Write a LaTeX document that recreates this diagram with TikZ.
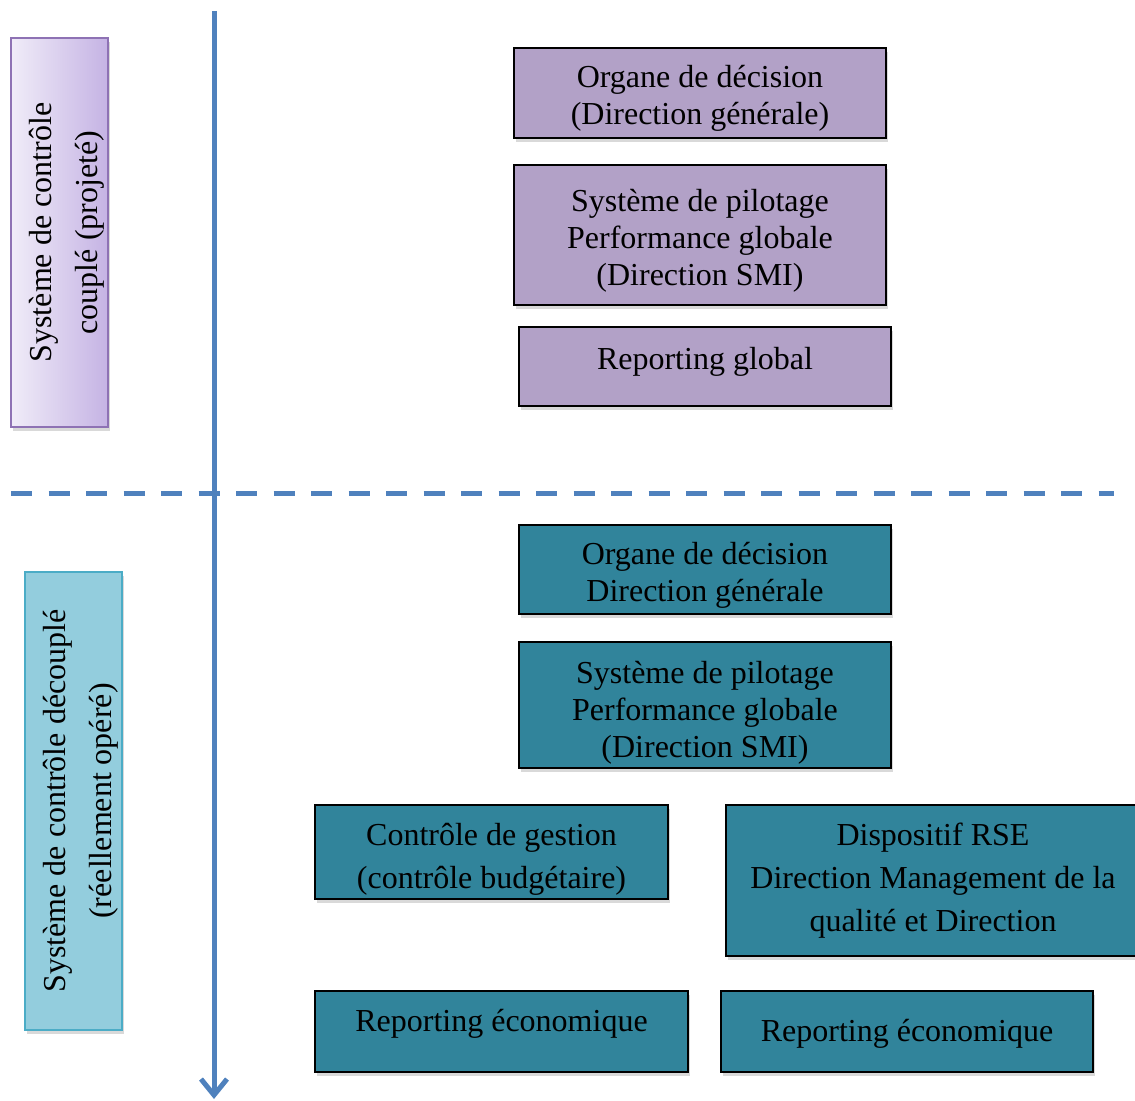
\documentclass[tikz,border=0pt]{standalone}
\usepackage{fontspec}
\setmainfont{Liberation Serif}
\usepackage{xcolor}
\usetikzlibrary{arrows.meta,shadows}
\definecolor{boxlilac}{HTML}{B2A1C7}
\definecolor{boxteal}{HTML}{31849B}
\definecolor{axisblue}{HTML}{4F81BD}
\definecolor{sidelilacA}{HTML}{F0ECF8}
\definecolor{sidelilacB}{HTML}{C5B3E4}
\definecolor{sidelilacline}{HTML}{8E72B4}
\definecolor{sideblue}{HTML}{93CDDD}
\definecolor{sidebluline}{HTML}{4BACC6}
% invisible strut to push the text down a little
\newcommand{\pushdown}[1]{\rule{0pt}{#1}}

\begin{document}
\begin{tikzpicture}[x=0.5pt, y=-0.5pt,
	box/.style={draw=black, line width=1pt, shape=rectangle, align=center, inner sep=0pt, outer sep=0pt,
		font=\fontsize{16pt}{18.5pt}\selectfont,
		drop shadow={shadow xshift=1pt, shadow yshift=-2pt, opacity=0.3}},
	upperbox/.style={box, fill=boxlilac},
	lowerbox/.style={box, fill=boxteal},
	sidebox/.style={box, rotate=90, line width=0.8pt, font=\fontsize{16pt}{23pt}\selectfont}]
	\path [use as bounding box, clip] (0, 0) rectangle (1135, 1101);

	% left labels
	\node [sidebox, draw=sidelilacline, left color=sidelilacA, right color=sidelilacB, minimum width=194.5pt, minimum height=48.5pt] (10) at (59.5, 232.5) {\pushdown{18.5pt}Système de contrôle\\couplé (projeté)};
	\node [sidebox, draw=sidebluline, fill=sideblue, minimum width=229pt, minimum height=48.5pt] (11) at (73.5, 801) {\pushdown{18pt}Système de contrôle découplé\\(réellement opéré)};

	% upper part
	\node [upperbox, minimum width=186pt, minimum height=45pt] (0) at (700, 93) {\pushdown{16pt}Organe de décision\\(Direction générale)};
	\node [upperbox, minimum width=186pt, minimum height=70pt] (1) at (700, 235) {\pushdown{16.5pt}Système de pilotage\\Performance globale\\(Direction SMI)};
	\node [upperbox, minimum width=186pt, minimum height=39.5pt] (2) at (705, 366.5) {\raisebox{2.5pt}[\height][\depth]{Reporting global}};

	% lower part
	\node [lowerbox, minimum width=186pt, minimum height=44.5pt] (3) at (705, 569.5) {\pushdown{16.5pt}Organe de décision\\Direction générale};
	\node [lowerbox, minimum width=186pt, minimum height=63pt] (4) at (705, 705) {\pushdown{18.5pt}Système de pilotage\\Performance globale\\(Direction SMI)};
	\node [lowerbox, minimum width=176.5pt, minimum height=47pt] (5) at (491.5, 852) {\pushdown{18.5pt}Contrôle de gestion\\[3pt](contrôle budgétaire)};
	\node [lowerbox, minimum width=207pt, minimum height=75.5pt] (6) at (933, 880.5) {Dispositif RSE\\[3pt]Direction Management de la\\[3pt]qualité et Direction};
	\node [lowerbox, minimum width=186.5pt, minimum height=40.5pt] (7) at (501.5, 1031.5) {\raisebox{4pt}[\height][\depth]{Reporting économique}};
	\node [lowerbox, minimum width=186pt, minimum height=40.5pt] (8) at (907, 1031.5) {\raisebox{-1pt}[\height][\depth]{Reporting économique}};

	% separation and time axis
	\coordinate (dl) at (11, 493);
	\coordinate (dr) at (1114, 493);
	\coordinate (at) at (214, 11);
	\coordinate (ab) at (214, 1099);
	\draw [axisblue, line width=2.5pt, dash pattern=on 10.5pt off 8.25pt] (dl) -- (dr);
	\draw [axisblue, line width=2.5pt, -{Straight Barb[length=8pt, width=13pt]}] (at) -- (ab);
\end{tikzpicture}
\end{document}
